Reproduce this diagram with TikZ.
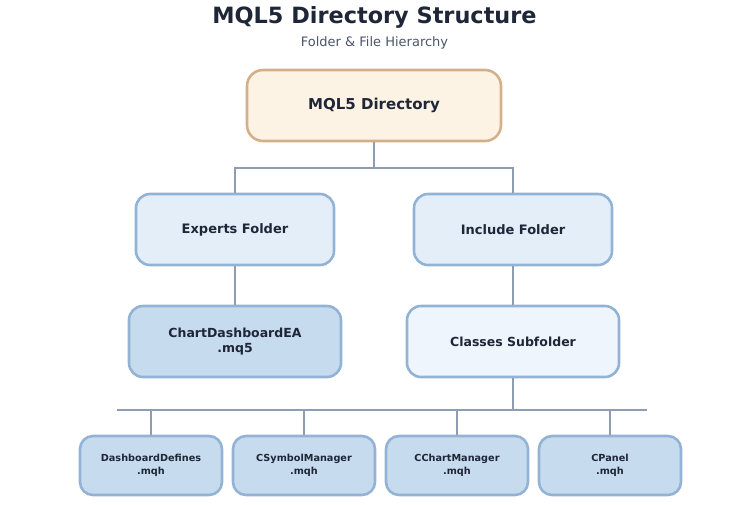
\documentclass[tikz,border=0pt]{standalone}
\usepackage{fontspec}
\setmainfont{DejaVu Sans}
\definecolor{txt}{HTML}{1E2637}
\definecolor{subt}{HTML}{4A5568}
\definecolor{rootfill}{HTML}{FDF3E5}
\definecolor{rootdraw}{HTML}{D4B08A}
\definecolor{bluedraw}{HTML}{93B3D5}
\definecolor{lightfill}{HTML}{E4EEF9}
\definecolor{midfill}{HTML}{C7DBEF}
\definecolor{palefill}{HTML}{EEF5FC}
\definecolor{conn}{HTML}{8E9DB2}
\begin{document}
\begin{tikzpicture}[x=1pt,y=-1pt,
  box/.style={draw=bluedraw, line width=2.6pt, rounded corners=14pt, text=txt, font=\bfseries, align=center, inner sep=0pt},
  big/.style={box, minimum width=#1, minimum height=71pt},
  small/.style={box, minimum width=142pt, minimum height=59pt, rounded corners=13pt, fill=midfill, font=\bfseries\fontsize{9.7}{12.5}\selectfont},
  link/.style={draw=conn, line width=2.5pt}
]
\useasboundingbox (0,0) rectangle (749,504);
\node[text=txt, font=\bfseries\fontsize{22.4}{26}\selectfont] (title) at (374.5,17) {MQL5 Directory Structure};
\node[text=subt, font=\fontsize{13}{15}\selectfont] (sub) at (374.5,43) {Folder \& File Hierarchy};
\node[box, minimum width=254pt, minimum height=71pt, fill=rootfill, draw=rootdraw, rounded corners=16pt, font=\bfseries\fontsize{15}{18}\selectfont] (root) at (374,105.5) {MQL5 Directory};
\node[big=198pt, fill=lightfill, font=\bfseries\fontsize{13}{15}\selectfont] (exp) at (235,229.5) {Experts Folder};
\node[big=198pt, fill=lightfill, font=\bfseries\fontsize{13}{15}\selectfont] (inc) at (513,229.5) {Include Folder};
\node[big=212pt, fill=midfill, font=\bfseries\fontsize{12.5}{15}\selectfont] (ea) at (235,341.5) {ChartDashboardEA\\.mq5};
\node[big=212pt, fill=palefill, font=\bfseries\fontsize{12.5}{15}\selectfont] (cls) at (513,341.5) {Classes Subfolder};
\node[small] (f1) at (151,465.5) {DashboardDefines\\.mqh};
\node[small] (f2) at (304,465.5) {CSymbolManager\\.mqh};
\node[small] (f3) at (457,465.5) {CChartManager\\.mqh};
\node[small] (f4) at (610,465.5) {CPanel\\.mqh};
\coordinate (j1) at (root.south |- 0,168);
\coordinate (j2) at (cls.south |- 0,410);
\coordinate (bl) at (117,410);
\coordinate (br) at (647,410);
\draw[link] (root.south) -- (j1);
\draw[link] (exp.north) |- (j1) -| (inc.north);
\draw[link] (exp.south) -- (ea.north);
\draw[link] (inc.south) -- (cls.north);
\draw[link] (cls.south) -- (j2);
\draw[link] (bl) -- (br);
\draw[link] (f1.north) -- (f1.north |- bl);
\draw[link] (f2.north) -- (f2.north |- bl);
\draw[link] (f3.north) -- (f3.north |- bl);
\draw[link] (f4.north) -- (f4.north |- bl);
\end{tikzpicture}
\end{document}
